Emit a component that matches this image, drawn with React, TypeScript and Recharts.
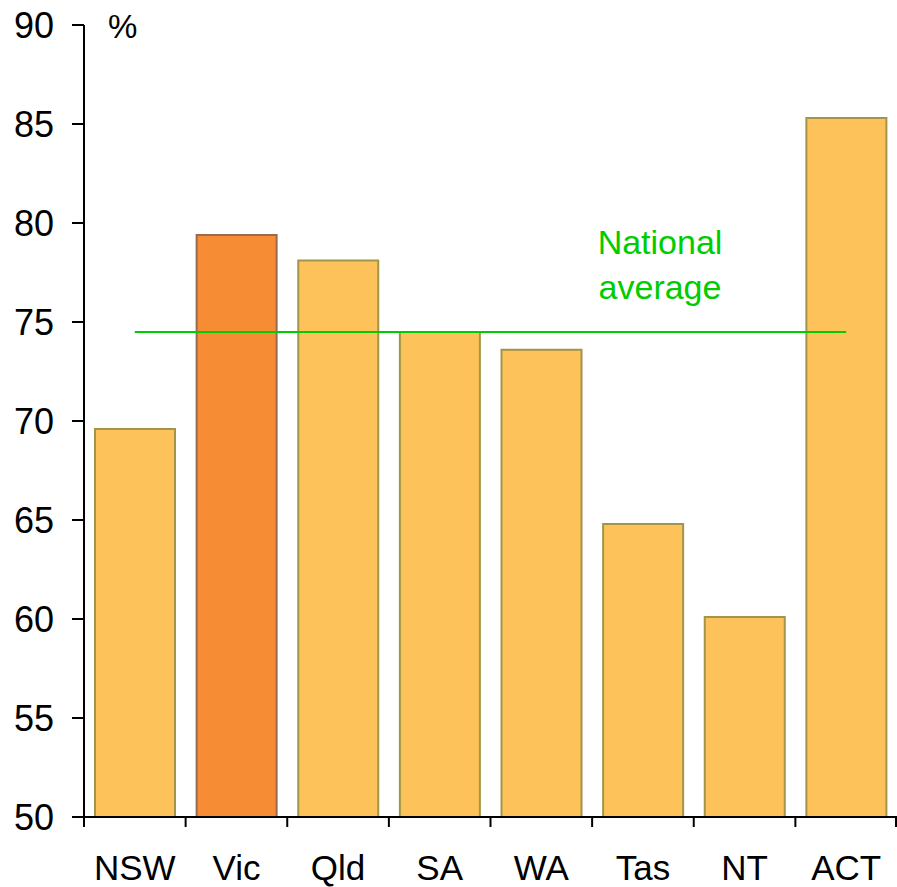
import { ComposedChart, Bar, Line, XAxis, YAxis, Cell, ReferenceLine } from "recharts";

const STATES = ["NSW", "Vic", "Qld", "SA", "WA", "Tas", "NT", "ACT"];
const SHARE = [69.6, 79.4, 78.1, 74.5, 73.6, 64.8, 60.1, 85.3];
const NATIONAL_AVG = 74.5;
const Y_TICKS = [50, 55, 60, 65, 70, 75, 80, 85, 90];
const HIGHLIGHT = "Vic";

const W = 897;
const H = 887;
const MARGIN = { top: 25, right: 0, bottom: 0, left: 0 };
const Y_WIDTH = 84;
const BAND = (W - Y_WIDTH - MARGIN.right) / STATES.length;
const FONT = "'Liberation Sans', Arial, sans-serif";

const data = STATES.map((s, i) => ({ state: s, value: SHARE[i], avg: NATIONAL_AVG }));

function StateTick(props: any) {
  const { x, y, payload, index } = props;
  const last = index === STATES.length - 1;
  return (
    <g>
      <line x1={x - BAND / 2} x2={x - BAND / 2} y1={y - 8} y2={y + 2} stroke="#000" strokeWidth={2} />
      {last && <line x1={x + BAND / 2 - 1} x2={x + BAND / 2 - 1} y1={y - 8} y2={y + 2} stroke="#000" strokeWidth={2} />}
      <text x={x} y={y + 55} textAnchor="middle" fontSize={35} fontFamily={FONT} fill="#000">
        {payload.value}
      </text>
    </g>
  );
}

export default function App() {
  return (
    <div style={{ position: "absolute", left: 0, top: 0, background: "#fff" }}>
      <ComposedChart width={W} height={H} data={data} margin={MARGIN}>
        <XAxis
          dataKey="state"
          height={70}
          axisLine={{ stroke: "#000", strokeWidth: 2 }}
          tickLine={false}
          tick={<StateTick />}
          interval={0}
        />
        <YAxis
          domain={[50, 90]}
          ticks={Y_TICKS}
          width={Y_WIDTH}
          allowDataOverflow
          axisLine={{ stroke: "#000", strokeWidth: 2 }}
          tickLine={{ stroke: "#000", strokeWidth: 2 }}
          tickSize={12}
          tickMargin={18}
          tick={{ fill: "#000", fontSize: 36, fontFamily: FONT }}
        />
        <ReferenceLine
          y={90}
          stroke="none"
          label={(p: any) => (
            <text x={p.viewBox.x + 24} y={38} fontSize={33} fontFamily={FONT} fill="#000">
              %
            </text>
          )}
        />
        <Bar dataKey="value" barSize={80} isAnimationActive={false}>
          {data.map((d) => (
            <Cell
              key={d.state}
              fill={d.state === HIGHLIGHT ? "#F68D35" : "#FDC35A"}
              stroke={d.state === HIGHLIGHT ? "#9A6A50" : "#A29448"}
              strokeWidth={2}
            />
          ))}
        </Bar>
        <Line
          dataKey="avg"
          stroke="#00CC00"
          strokeWidth={2}
          dot={false}
          activeDot={false}
          isAnimationActive={false}
        />
        <ReferenceLine
          y={NATIONAL_AVG}
          stroke="none"
          label={(p: any) => (
            <text x={660} fontSize={34} fontFamily={FONT} fill="#00CC00" textAnchor="middle">
              <tspan x={660} y={p.viewBox.y - 78}>National</tspan>
              <tspan x={660} y={p.viewBox.y - 33}>average</tspan>
            </text>
          )}
        />
      </ComposedChart>
    </div>
  );
}
